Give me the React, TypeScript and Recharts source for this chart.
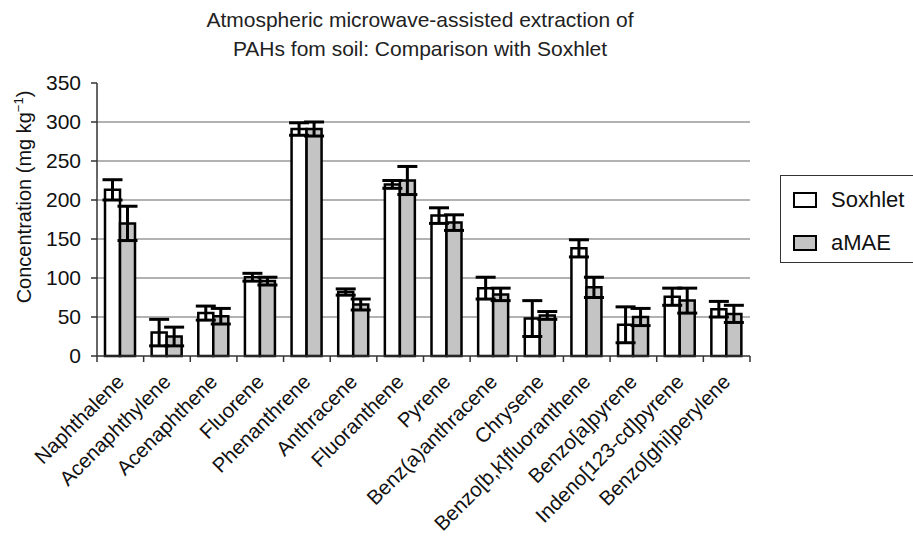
import React from "react";
import {
  BarChart,
  Bar,
  XAxis,
  YAxis,
  CartesianGrid,
  ErrorBar,
  Legend,
} from "recharts";

// PAH compounds on the x axis
const compounds = [
  "Naphthalene",
  "Acenaphthylene",
  "Acenaphthene",
  "Fluorene",
  "Phenanthrene",
  "Anthracene",
  "Fluoranthene",
  "Pyrene",
  "Benz(a)anthracene",
  "Chrysene",
  "Benzo[b,k]fluoranthene",
  "Benzo[a]pyrene",
  "Indeno[123-cd]pyrene",
  "Benzo[ghi]perylene",
];

// mg/kg
const soxhlet = [213, 30, 55, 101, 291, 82, 220, 180, 87, 48, 138, 40, 76, 60];
const soxhletErr = [13, 17, 9, 5, 8, 4, 5, 10, 14, 23, 11, 23, 11, 10];
const amae = [170, 25, 51, 96, 291, 66, 225, 171, 79, 52, 88, 50, 71, 54];
const amaeErr = [22, 12, 10, 5, 9, 7, 18, 10, 8, 5, 13, 11, 16, 11];

const yTicks = [0, 50, 100, 150, 200, 250, 300, 350];
const gridValues = [50, 100, 150, 200, 250, 300];

const seriesNames = ["Soxhlet", "aMAE"];
const seriesFills = ["#ffffff", "#c4c4c4"];

const data = compounds.map((name, i) => ({
  name,
  Soxhlet: soxhlet[i],
  soxErr: soxhletErr[i],
  aMAE: amae[i],
  amaeErr: amaeErr[i],
}));

const FONT = "Arial, 'Liberation Sans', Helvetica, sans-serif";
const W = 913;
const H = 546;
const margin = { top: 83, right: 163, left: 35, bottom: 10 };
const Y_WIDTH = 62;
const BAND = (W - margin.left - margin.right - Y_WIDTH) / compounds.length;

const XTick = (props: any) => {
  const { x, y, payload, index } = props;
  const half = BAND / 2;
  return (
    <g>
      <line x1={x - half} y1={y} x2={x - half} y2={y + 6} stroke="#333" strokeWidth={1.5} />
      {index === compounds.length - 1 && (
        <line x1={x + half} y1={y} x2={x + half} y2={y + 6} stroke="#333" strokeWidth={1.5} />
      )}
      <text
        transform={`translate(${x + 5},${y + 27}) rotate(-45)`}
        textAnchor="end"
        fontSize={20.5}
        fill="#111"
        fontFamily={FONT}
      >
        {payload.value}
      </text>
    </g>
  );
};

const YLabel = () => (
  <text
    transform="translate(31,197) rotate(-90)"
    textAnchor="middle"
    fontSize={20}
    fill="#111"
    fontFamily={FONT}
  >
    Concentration (mg kg
    <tspan dy={-8} fontSize={13}>
      −1
    </tspan>
    <tspan dy={8}>)</tspan>
  </text>
);

const LegendBox = () => (
  <div
    style={{
      width: 150,
      height: 88,
      border: "1.5px solid #333",
      boxSizing: "border-box",
      background: "#fff",
      fontFamily: FONT,
      fontSize: 22,
      color: "#111",
      paddingTop: 11,
      paddingLeft: 12,
    }}
  >
    {seriesNames.map((n, i) => (
      <div key={n} style={{ display: "flex", alignItems: "center", height: 26, marginBottom: 17 }}>
        <span
          style={{
            display: "inline-block",
            width: 24,
            height: 16,
            border: "2.5px solid #000",
            boxSizing: "border-box",
            background: seriesFills[i],
            marginRight: 14,
          }}
        />
        {n}
      </div>
    ))}
  </div>
);

export default function App() {
  return (
    <div
      style={{
        position: "absolute",
        left: 0,
        top: 0,
        width: W,
        height: H,
        overflow: "hidden",
        background: "#fff",
        fontFamily: FONT,
      }}
    >
      <div
        style={{
          position: "absolute",
          top: 5,
          left: 170,
          width: 500,
          textAlign: "center",
          fontSize: 21,
          lineHeight: "29px",
          color: "#222",
        }}
      >
        Atmospheric microwave-assisted extraction of
        <br />
        PAHs fom soil: Comparison with Soxhlet
      </div>
      <BarChart
        width={W}
        height={H}
        data={data}
        margin={margin}
        barGap={0}
        barSize={15}
      >
        <CartesianGrid
          vertical={false}
          horizontalValues={gridValues}
          stroke="#999"
          strokeWidth={1.3}
        />
        <XAxis
          dataKey="name"
          interval={0}
          height={180}
          tickLine={false}
          tickSize={0}
          tickMargin={0}
          axisLine={{ stroke: "#333", strokeWidth: 1.5 }}
          tick={<XTick />}
        />
        <YAxis
          width={Y_WIDTH}
          domain={[0, 350]}
          ticks={yTicks}
          interval={0}
          tickSize={6}
          tickMargin={10}
          axisLine={{ stroke: "#333", strokeWidth: 1.5 }}
          tickLine={{ stroke: "#333", strokeWidth: 1.5 }}
          tick={{ fontSize: 21, fill: "#111", fontFamily: FONT }}
          label={<YLabel />}
        />
        <Legend
          layout="horizontal"
          align="center"
          verticalAlign="middle"
          wrapperStyle={{ left: 780, top: 175, width: 150 }}
          content={() => <LegendBox />}
        />
        <Bar
          dataKey="Soxhlet"
          fill={seriesFills[0]}
          stroke="#000"
          strokeWidth={2.5}
          isAnimationActive={false}
        >
          <ErrorBar dataKey="soxErr" width={10} strokeWidth={3} stroke="#000" direction="y" />
        </Bar>
        <Bar
          dataKey="aMAE"
          fill={seriesFills[1]}
          stroke="#000"
          strokeWidth={2.5}
          isAnimationActive={false}
        >
          <ErrorBar dataKey="amaeErr" width={10} strokeWidth={3} stroke="#000" direction="y" />
        </Bar>
      </BarChart>
    </div>
  );
}
